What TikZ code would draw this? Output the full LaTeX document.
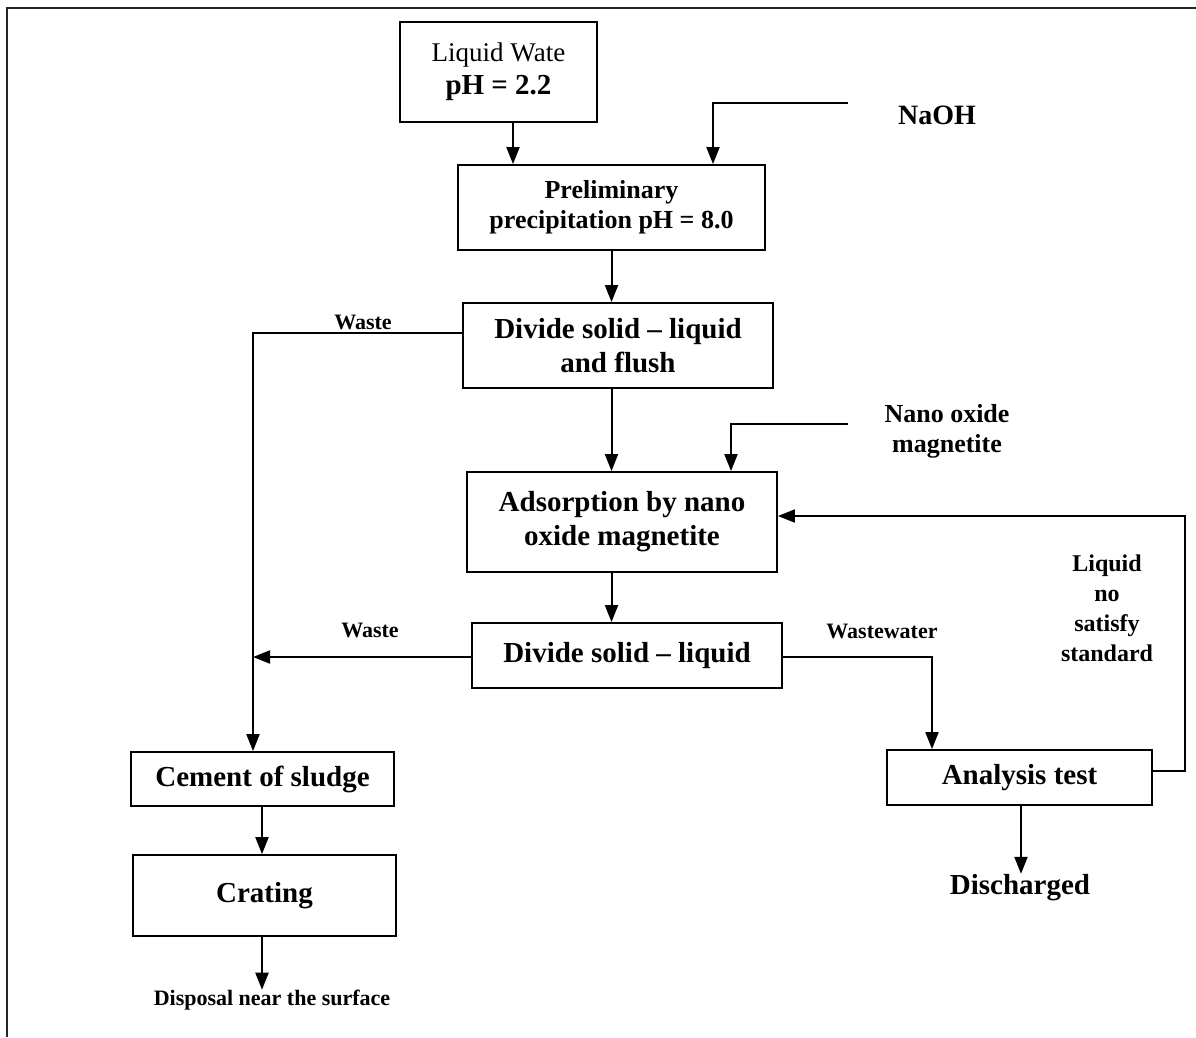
\documentclass[tikz,border=0pt]{standalone}
\usepackage{fontspec}
\setmainfont{Liberation Serif}
\usetikzlibrary{arrows.meta}
\usetikzlibrary{positioning}
\tikzset {
  flow path/.style = {
    draw = black,
    line width = 2pt
  },
  % path style with a filled head at its end
  arr/.style = {
    flow path,
    -{Triangle[width = 13pt, length = 17pt]}
  },
  % path style with no arrows
  narr/.style = {
    flow path
  }
}
\tikzset {
  flow node/.style = {
    draw = black,
    line width = 1.8pt,
    rectangle,
    align = center,
    inner sep = 0
  },
  % process step
  proc/.style = {
    flow node,
    font = \bfseries\fontsize{29}{34}\selectfont
  },
  % smaller process step
  small proc/.style = {
    flow node,
    font = \bfseries\fontsize{26}{30}\selectfont
  },
  % label beside a line
  note/.style = {
    inner sep = 0,
    align = center,
    font = \bfseries\fontsize{22}{26}\selectfont
  },
  big note/.style = {
    note,
    font = \bfseries\fontsize{26}{30}\selectfont
  }
}

\begin{document}
\begin{tikzpicture}[x = 1pt, y = -1pt]
    \useasboundingbox (0,0) rectangle (1196,1037);
    \draw[line width = 2.6pt, black!85] (7,1037) -- (7,8) -- (1196,8);

    \node[flow node, minimum width = 197pt, minimum height = 100pt,
      font = \fontsize{27}{33}\selectfont] (liquid) at (498.5,72)
      {Liquid Wate\\\textbf{\fontsize{29}{33}\selectfont pH = 2.2}};
    \node[small proc, minimum width = 307pt, minimum height = 85pt] (prelim) at (611.5,207.5)
      {Preliminary\\precipitation pH = 8.0};
    \node[proc, minimum width = 310pt, minimum height = 85pt] (flush) at (618,345.5)
      {Divide solid -- liquid\\and flush};
    \node[proc, minimum width = 310pt, minimum height = 100pt] (adsorb) at (622,522)
      {Adsorption by nano\\oxide magnetite};
    \node[proc, minimum width = 310pt, minimum height = 65pt] (divide) at (627,655.5)
      {Divide solid -- liquid};
    \node[proc, minimum width = 265pt, minimum height = 55pt] (analysis) at (1019.5,777.5)
      {Analysis test};
    \node[proc, minimum width = 263pt, minimum height = 54pt] (cement) at (262.5,779)
      {Cement of sludge};
    \node[proc, minimum width = 263pt, minimum height = 81pt] (crating) at (264.5,895.5)
      {Crating};

    \node[big note, font = \bfseries\fontsize{28}{32}\selectfont] (naoh) at (937,115) {NaOH};
    \node[big note] (nano) at (947,431) {Nano oxide\\magnetite};
    \node[note, font = \bfseries\fontsize{24}{30}\selectfont] (nosat) at (1107,608)
      {Liquid\\no\\satisfy\\standard};
    \node[note] (waste-top) at (363,322) {Waste};
    \node[note] (waste-low) at (370,630) {Waste};
    \node[note] (wastewater) at (882,631) {Wastewater};
    \node[proc, draw = none] (discharged) at (1020,888) {Discharged};
    \node[note] (disposal) at (272,1000) {Disposal near the surface};

    \coordinate (feed) at (513,0);
    \coordinate (naoh-end) at (848,103);
    \coordinate (naoh-drop) at (713,103);
    \coordinate (nano-end) at (848,424);
    \coordinate (nano-drop) at (731,424);
    \coordinate (waste-turn) at (253,333);
    \coordinate (ww-turn) at (932,657);
    \coordinate (loop) at (1185,516);

    \draw[arr] (liquid.south -| feed) -- (prelim.north -| feed);
    \draw[arr] (naoh-end) -- (naoh-drop) -- (prelim.north -| naoh-drop);
    \draw[arr] (prelim.south) -- (prelim.south |- flush.north);
    \draw[arr] (flush.south -| prelim.south) -- (adsorb.north -| prelim.south);
    \draw[arr] (nano-end) -- (nano-drop) -- (adsorb.north -| nano-drop);
    \draw[arr] (adsorb.south -| prelim.south) -- (divide.north -| prelim.south);

    \draw[arr] (flush.west |- waste-turn) -- (waste-turn) -- (cement.north -| waste-turn);
    \draw[arr] (divide.west |- 0,657) -- (waste-turn |- 0,657);
    \draw[arr] (divide.east |- ww-turn) -- (ww-turn) -- (analysis.north -| ww-turn);
    \draw[arr] (analysis.east |- 0,771) -- (loop |- 0,771) -- (loop) -- (adsorb.east |- loop);

    \draw[arr] (analysis.south -| 1021,0) -- (discharged.north -| 1021,0);
    \draw[arr] (cement.south -| 262,0) -- (crating.north -| 262,0);
    \draw[arr] (crating.south -| 262,0) -- (disposal.north -| 262,0);
\end{tikzpicture}
\end{document}
